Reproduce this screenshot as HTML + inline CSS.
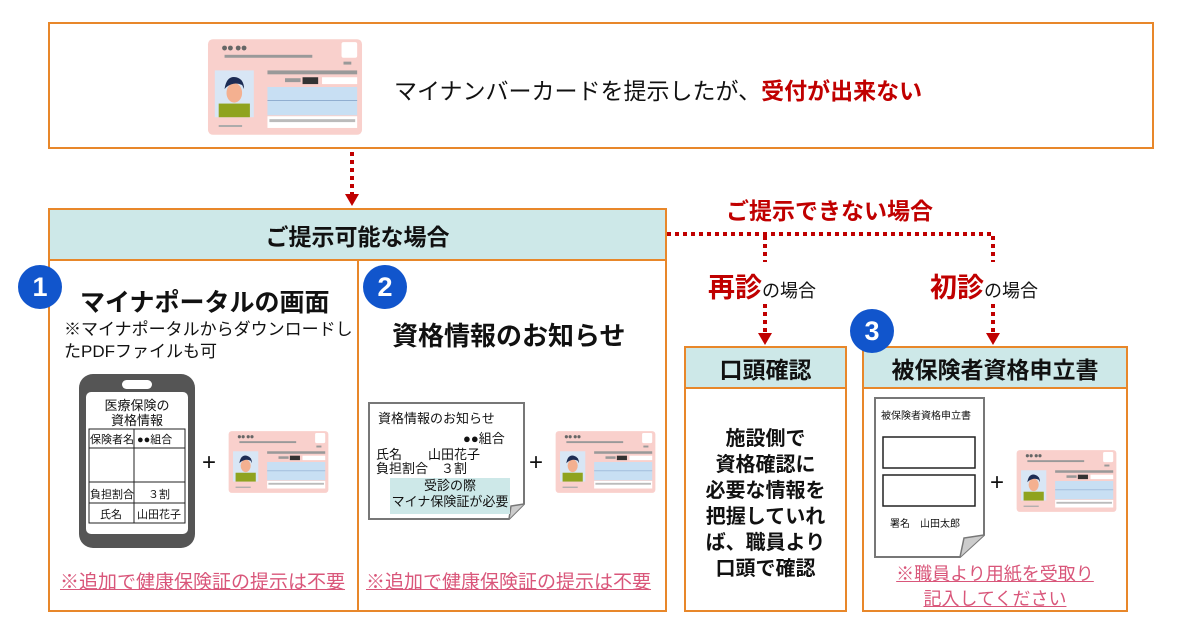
<!DOCTYPE html>
<html><head><meta charset="utf-8">
<style>
*{margin:0;padding:0;box-sizing:border-box}
body{width:1177px;height:631px;background:#fff;position:relative;overflow:hidden;font-family:"Liberation Sans","Noto Sans CJK JP",sans-serif;color:#111}
.a{position:absolute}
.box{position:absolute;border:2px solid #e8872a;background:#fff}
.hd{position:absolute;border:2px solid #e8872a;background:#cde8e8;display:flex;align-items:center;justify-content:center;font-weight:bold;font-size:23px}
.t{position:absolute;white-space:nowrap}
.c{text-align:center}
.red{color:#c00000;font-weight:bold}
.num{position:absolute;width:44px;height:44px;border-radius:50%;background:#1155cc;color:#fff;font-weight:bold;font-size:27px;display:flex;align-items:center;justify-content:center}
.pk{color:#d9567a;text-decoration:underline;font-size:19px}
</style></head><body>
<svg width="0" height="0" style="position:absolute">
<defs>
<symbol id="card" viewBox="0 0 160 100">
<rect x="1" y="1" width="158" height="98" rx="5" fill="#f9d0cc"/>
<circle cx="18" cy="10" r="2.5" fill="#666"/><circle cx="24" cy="10" r="2.5" fill="#666"/><circle cx="32" cy="10" r="2.5" fill="#666"/><circle cx="38" cy="10" r="2.5" fill="#666"/>
<rect x="18" y="17" width="90" height="3" fill="#999"/>
<rect x="138" y="4" width="16" height="16" rx="2" fill="#fff"/>
<rect x="140" y="24" width="8" height="3" fill="#999"/>
<rect x="8" y="33" width="40" height="48" fill="#d8e6f5"/>
<rect x="12" y="67" width="32" height="14" fill="#8fa31f"/>
<ellipse cx="28" cy="56" rx="8" ry="10" fill="#f4b090"/>
<path d="M18 52 Q20 38 30 40 Q38 42 38 52 L36 48 Q28 44 20 50Z" fill="#1d2c54"/>
<rect x="62" y="33" width="92" height="4" fill="#999"/>
<rect x="80" y="41" width="16" height="4" fill="#999"/>
<rect x="98" y="40" width="16" height="7" fill="#333"/>
<rect x="118" y="40" width="36" height="7" fill="#fff"/>
<rect x="62" y="50" width="92" height="29" fill="#c8dff3"/>
<line x1="62" y1="64" x2="154" y2="64" stroke="#7f9ec4" stroke-width="0.8"/>
<rect x="62" y="80" width="92" height="12" fill="#fff"/>
<rect x="64" y="83" width="88" height="3" fill="#bbb"/>
<rect x="12" y="89" width="24" height="2" fill="#aaa"/>
</symbol>
</defs>
</svg>

<div class="box" style="left:48px;top:22px;width:1106px;height:127px"></div>
<svg class="a" style="left:207px;top:38px" width="156" height="98"><use href="#card" width="156" height="98"/></svg>
<div class="t" style="left:394px;top:72px;font-size:23px">マイナンバーカードを提示したが、<span class="red">受付が出来ない</span></div>

<svg class="a" style="left:0;top:0" width="1177" height="631">
<g stroke="#c00000" stroke-width="4" stroke-dasharray="4 4" fill="none">
<line x1="352" y1="152" x2="352" y2="194"/>
<line x1="667" y1="234" x2="995" y2="234"/>
<line x1="765" y1="236" x2="765" y2="262"/>
<line x1="993" y1="236" x2="993" y2="262"/>
<line x1="765" y1="304" x2="765" y2="334"/>
<line x1="993" y1="304" x2="993" y2="334"/>
</g>
<g fill="#c00000">
<polygon points="345,194 359,194 352,206"/>
<polygon points="758,333 772,333 765,345"/>
<polygon points="986,333 1000,333 993,345"/>
</g>
</svg>

<div class="hd" style="left:48px;top:208px;width:619px;height:53px">ご提示可能な場合</div>
<div class="box" style="left:48px;top:259px;width:311px;height:353px"></div>
<div class="box" style="left:357px;top:259px;width:310px;height:353px"></div>
<div class="num" style="left:18px;top:265px">1</div>
<div class="num" style="left:363px;top:265px">2</div>
<div class="t" style="left:80px;top:283px;font-size:25px;font-weight:bold">マイナポータルの画面</div>
<div class="t" style="left:64px;top:319px;font-size:17px;line-height:22px">※マイナポータルからダウンロードし<br>たPDFファイルも可</div>
<div class="t" style="left:392px;top:316px;font-size:26px;font-weight:bold">資格情報のお知らせ</div>

<div class="a" style="left:79px;top:374px;width:116px;height:174px;background:#555;border-radius:14px"></div>
<div class="a" style="left:122px;top:380px;width:30px;height:9px;background:#fff;border-radius:5px"></div>
<div class="a" style="left:86px;top:392px;width:102px;height:142px;background:#fff;border-radius:5px"></div>
<div class="t c" style="left:86px;top:398px;width:102px;font-size:13px;line-height:15px">医療保険の<br>資格情報</div>
<svg class="a" style="left:88px;top:428px" width="98" height="96">
<g fill="none" stroke="#222" stroke-width="1"><rect x="1" y="1" width="96" height="94"/><line x1="46" y1="1" x2="46" y2="95"/><line x1="1" y1="20" x2="97" y2="20"/><line x1="1" y1="54" x2="97" y2="54"/><line x1="1" y1="75" x2="97" y2="75"/></g>
<g font-size="11" fill="#111" font-family="Liberation Sans,Noto Sans CJK JP,sans-serif"><text x="2" y="15">保険者名</text><text x="49" y="15">●●組合</text><text x="2" y="70">負担割合</text><text x="60" y="70">３割</text><text x="12" y="90">氏名</text><text x="49" y="90">山田花子</text></g>
</svg>
<div class="t" style="left:202px;top:449px;font-size:24px">+</div>
<svg class="a" style="left:228px;top:430px" width="101" height="64"><use href="#card" width="101" height="64"/></svg>
<div class="t pk" style="left:60px;top:567px">※追加で健康保険証の提示は不要</div>

<svg class="a" style="left:368px;top:402px" width="158" height="118">
<path d="M1 1 H156 V102 L141 117 H1Z" fill="#fff" stroke="#777" stroke-width="2"/>
<path d="M141 117 L143 104 L156 102" fill="#ccc" stroke="#777" stroke-width="1.5"/>
<rect x="22" y="76" width="120" height="36" fill="#cde8e8"/>
<g font-size="13" fill="#111" font-family="Liberation Sans,Noto Sans CJK JP,sans-serif">
<text x="10" y="21">資格情報のお知らせ</text><text x="95" y="41">●●組合</text>
<text x="8" y="57">氏名　　山田花子</text><text x="8" y="71">負担割合　３割</text>
<text x="82" y="88" text-anchor="middle">受診の際</text><text x="82" y="104" text-anchor="middle">マイナ保険証が必要</text></g>
</svg>
<div class="t" style="left:529px;top:449px;font-size:24px">+</div>
<svg class="a" style="left:555px;top:430px" width="101" height="64"><use href="#card" width="101" height="64"/></svg>
<div class="t pk" style="left:366px;top:567px">※追加で健康保険証の提示は不要</div>

<div class="t red" style="left:726px;top:192px;font-size:23px">ご提示できない場合</div>
<div class="t" style="left:708px;top:266px;font-size:18px"><span class="red" style="font-size:27px">再診</span>の場合</div>
<div class="t" style="left:930px;top:266px;font-size:18px"><span class="red" style="font-size:27px">初診</span>の場合</div>

<div class="hd" style="left:684px;top:346px;width:163px;height:43px">口頭確認</div>
<div class="box" style="left:684px;top:387px;width:163px;height:225px"></div>
<div class="t c" style="left:684px;top:426px;width:163px;font-size:20px;font-weight:bold;line-height:26px">施設側で<br>資格確認に<br>必要な情報を<br>把握していれ<br>ば、職員より<br>口頭で確認</div>

<div class="hd" style="left:862px;top:346px;width:266px;height:43px">被保険者資格申立書</div>
<div class="box" style="left:862px;top:387px;width:266px;height:225px"></div>
<div class="num" style="left:850px;top:309px">3</div>
<svg class="a" style="left:874px;top:397px" width="112" height="162">
<path d="M1 1 H110 V138 L86 160 H1Z" fill="#fff" stroke="#777" stroke-width="2"/>
<path d="M86 160 L90 141 L110 138" fill="#ccc" stroke="#777" stroke-width="1.5"/>
<rect x="9" y="40" width="92" height="31" fill="none" stroke="#222" stroke-width="1.5"/>
<rect x="9" y="78" width="92" height="31" fill="none" stroke="#222" stroke-width="1.5"/>
<g font-size="10" fill="#111" font-family="Liberation Sans,Noto Sans CJK JP,sans-serif"><text x="7" y="22">被保険者資格申立書</text><text x="16" y="130">署名　山田太郎</text></g>
</svg>
<div class="t" style="left:990px;top:469px;font-size:24px">+</div>
<svg class="a" style="left:1016px;top:449px" width="101" height="64"><use href="#card" width="101" height="64"/></svg>
<div class="t pk c" style="left:862px;top:562px;width:266px;line-height:25px;font-size:18px">※職員より用紙を受取り<br>記入してください</div>
</body></html>
